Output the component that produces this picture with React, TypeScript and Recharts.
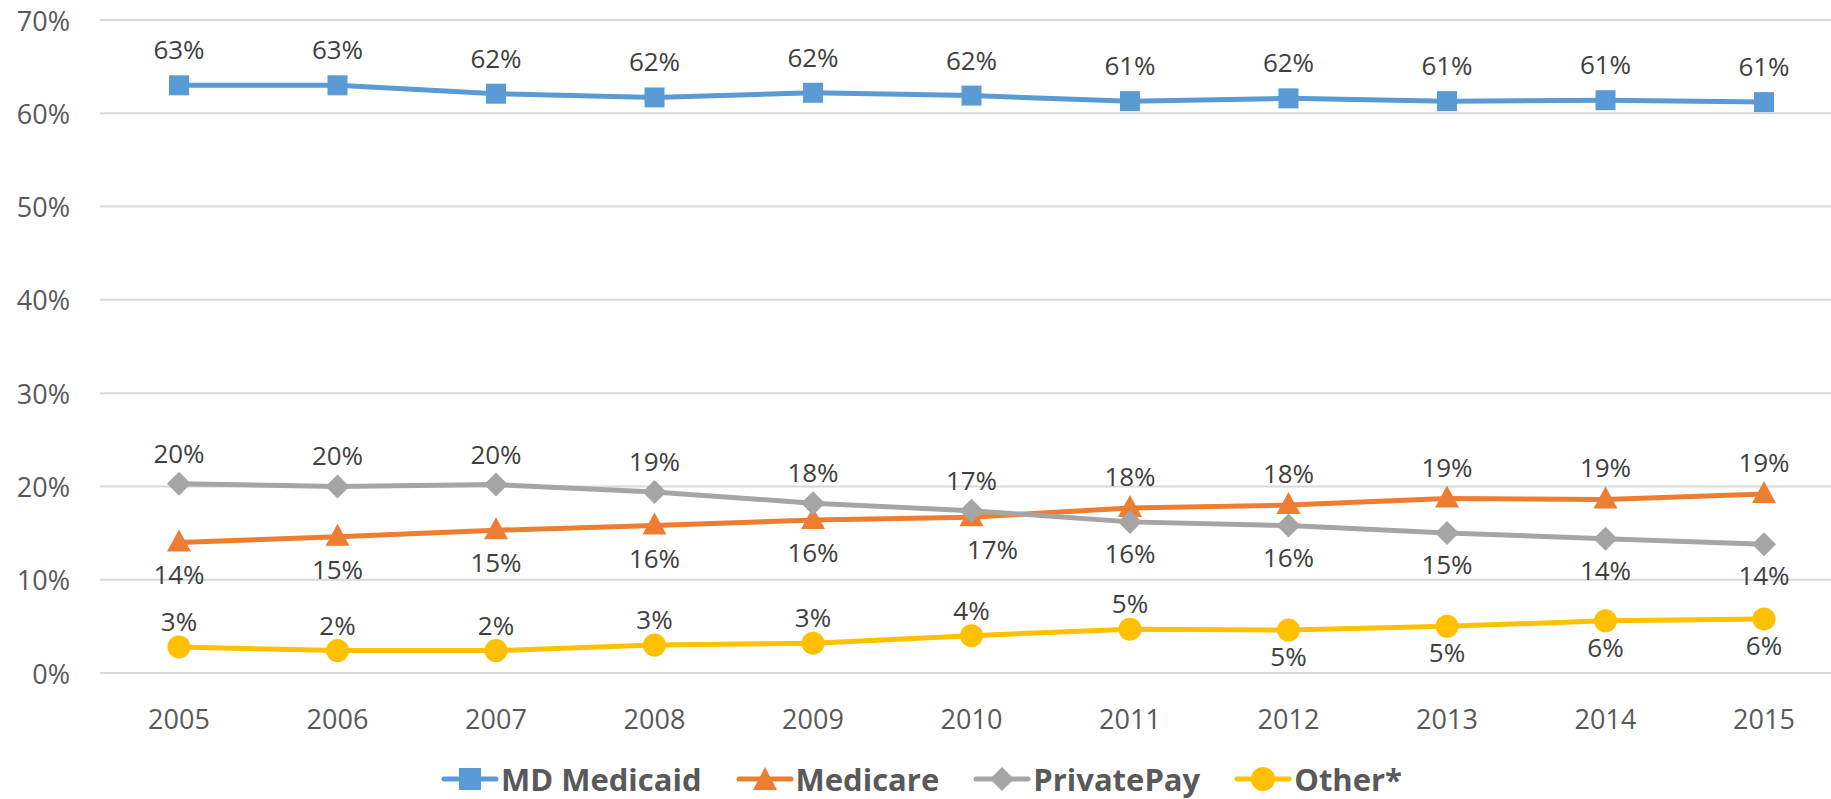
import { LineChart, Line, XAxis, YAxis, CartesianGrid, Legend, LabelList } from "recharts";

const years = ["2005", "2006", "2007", "2008", "2009", "2010", "2011", "2012", "2013", "2014", "2015"];
const medicaid = [63.0, 63.0, 62.1, 61.7, 62.2, 61.9, 61.3, 61.6, 61.3, 61.4, 61.2];
const medicare = [14.0, 14.6, 15.3, 15.8, 16.4, 16.7, 17.7, 18.0, 18.7, 18.6, 19.2];
const privatePay = [20.3, 20.0, 20.2, 19.4, 18.2, 17.4, 16.2, 15.8, 15.0, 14.4, 13.8];
const other = [2.8, 2.4, 2.4, 3.0, 3.2, 4.0, 4.7, 4.6, 5.0, 5.6, 5.8];
const yTicks = [0, 10, 20, 30, 40, 50, 60, 70];

// where each data label sits: "a" above the point, "b" below
const medicaidPos = ["a", "a", "a", "a", "a", "a", "a", "a", "a", "a", "a"];
const medicarePos = ["b", "b", "b", "b", "b", "b", "a", "a", "a", "a", "a"];
const privatePayPos = ["a", "a", "a", "a", "a", "a", "b", "b", "b", "b", "b"];
const otherPos = ["a", "a", "a", "a", "a", "a", "a", "b", "b", "b", "b"];

const data = years.map((year, i) => ({
  year,
  medicaid: medicaid[i],
  medicare: medicare[i],
  privatePay: privatePay[i],
  other: other[i],
}));

const FONT = "'Open Sans', sans-serif";
const BLUE = "#5B9BD5";
const ORANGE = "#ED7D31";
const GRAY = "#A5A5A5";
const YELLOW = "#FFC000";

const makeLabel = (pos: string[], gap: number, nudge: Record<number, number> = {}) => (props: any) => {
  const { x, y, value, index } = props;
  const dy = pos[index] === "a" ? -gap : gap;
  return (
    <text
      x={x + (nudge[index] || 0)}
      y={y + dy}
      textAnchor="middle"
      dominantBaseline="central"
      fill="#404040"
      fontSize={26}
      fontFamily={FONT}
    >
      {Math.round(value)}%
    </text>
  );
};

const SquareDot = (props: any) => {
  const { cx, cy } = props;
  return <rect x={cx - 10} y={cy - 10} width={20} height={20} fill={BLUE} />;
};

const TriangleDot = (props: any) => {
  const { cx, cy } = props;
  return <polygon points={`${cx},${cy - 13} ${cx + 12},${cy + 9} ${cx - 12},${cy + 9}`} fill={ORANGE} />;
};

const DiamondDot = (props: any) => {
  const { cx, cy } = props;
  return <polygon points={`${cx},${cy - 12} ${cx + 12},${cy} ${cx},${cy + 12} ${cx - 12},${cy}`} fill={GRAY} />;
};

const CircleDot = (props: any) => {
  const { cx, cy } = props;
  return <circle cx={cx} cy={cy} r={11.5} fill={YELLOW} />;
};

const XTick = (props: any) => {
  const { x, y, payload } = props;
  return (
    <text x={x} y={y + 37} textAnchor="middle" dominantBaseline="central" fill="#595959" fontSize={27} fontFamily={FONT}>
      {payload.value}
    </text>
  );
};

const YTick = (props: any) => {
  const { y, payload } = props;
  return (
    <text x={70} y={y} textAnchor="end" dominantBaseline="central" fill="#595959" fontSize={27} fontFamily={FONT}>
      {payload.value}%
    </text>
  );
};

const legendItems = [
  { name: "MD Medicaid", color: BLUE, shape: "square" },
  { name: "Medicare", color: ORANGE, shape: "triangle" },
  { name: "PrivatePay", color: GRAY, shape: "diamond" },
  { name: "Other*", color: YELLOW, shape: "circle" },
];

const LegendIcon = ({ color, shape }: { color: string; shape: string }) => (
  <svg width={58} height={26} style={{ marginRight: 2 }}>
    <line x1={3} y1={13} x2={55} y2={13} stroke={color} strokeWidth={5} strokeLinecap="round" />
    {shape === "square" && <rect x={18} y={2} width={22} height={22} fill={color} />}
    {shape === "triangle" && <polygon points="29,1 41,24 17,24" fill={color} />}
    {shape === "diamond" && <polygon points="29,1 41,13 29,25 17,13" fill={color} />}
    {shape === "circle" && <circle cx={29} cy={13} r={12} fill={color} />}
  </svg>
);

const LegendContent = () => (
  <div style={{ height: 66, display: "flex", justifyContent: "center", alignItems: "center", paddingTop: 26, boxSizing: "border-box" }}>
    {legendItems.map((item, i) => (
      <div key={item.name} style={{ display: "flex", alignItems: "center", marginRight: i < legendItems.length - 1 ? 34 : 0 }}>
        <LegendIcon color={item.color} shape={item.shape} />
        <span style={{ fontFamily: FONT, fontWeight: 700, fontSize: 31, color: "#595959", lineHeight: "36px" }}>{item.name}</span>
      </div>
    ))}
  </div>
);

export default function App() {
  return (
    <div style={{ position: "absolute", left: 0, top: 0, width: 1831, height: 799, overflow: "hidden", background: "#fff" }}>
      <LineChart width={1843} height={799} data={data} margin={{ top: 20, right: 0, bottom: 0, left: 0 }}>
        <CartesianGrid vertical={false} stroke="#d9d9d9" strokeWidth={2} />
        <XAxis
          dataKey="year"
          height={60}
          axisLine={{ stroke: "#d9d9d9", strokeWidth: 2 }}
          tickLine={false}
          tick={<XTick />}
          padding={{ left: 79, right: 79 }}
          interval={0}
        />
        <YAxis width={100} domain={[0, 70]} ticks={yTicks} axisLine={false} tickLine={false} tick={<YTick />} />
        <Legend verticalAlign="bottom" content={<LegendContent />} />
        <Line dataKey="medicaid" name="MD Medicaid" stroke={BLUE} strokeWidth={5} dot={<SquareDot />} activeDot={false} isAnimationActive={false}>
          <LabelList dataKey="medicaid" content={makeLabel(medicaidPos, 36)} />
        </Line>
        <Line dataKey="medicare" name="Medicare" stroke={ORANGE} strokeWidth={5} dot={<TriangleDot />} activeDot={false} isAnimationActive={false}>
          <LabelList dataKey="medicare" content={makeLabel(medicarePos, 32, { 5: 21 })} />
        </Line>
        <Line dataKey="privatePay" name="PrivatePay" stroke={GRAY} strokeWidth={5} dot={<DiamondDot />} activeDot={false} isAnimationActive={false}>
          <LabelList dataKey="privatePay" content={makeLabel(privatePayPos, 31)} />
        </Line>
        <Line dataKey="other" name="Other*" stroke={YELLOW} strokeWidth={5} dot={<CircleDot />} activeDot={false} isAnimationActive={false}>
          <LabelList dataKey="other" content={makeLabel(otherPos, 26)} />
        </Line>
      </LineChart>
    </div>
  );
}
